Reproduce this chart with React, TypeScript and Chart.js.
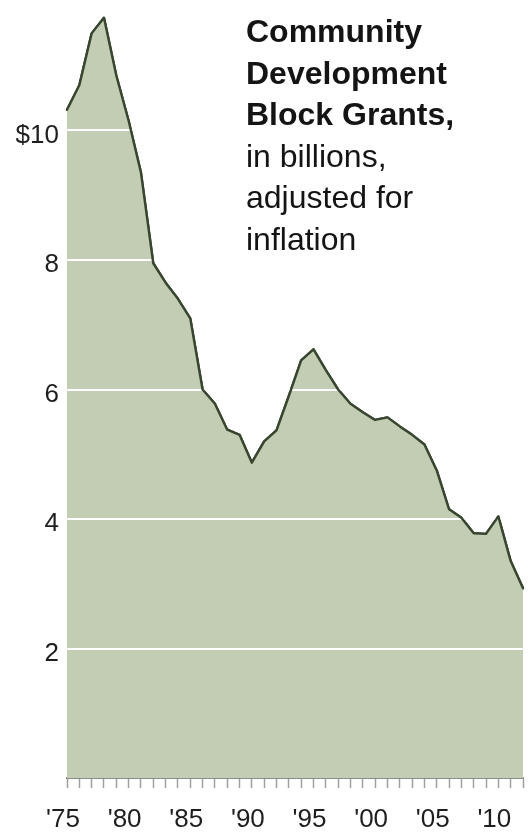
import React, { useEffect, useRef } from 'react';
import { Chart, registerables } from 'chart.js';

Chart.register(...registerables);

// Fiscal years on the horizontal axis
const years: number[] = [
  1975, 1976, 1977, 1978, 1979, 1980, 1981, 1982, 1983, 1984,
  1985, 1986, 1987, 1988, 1989, 1990, 1991, 1992, 1993, 1994,
  1995, 1996, 1997, 1998, 1999, 2000, 2001, 2002, 2003, 2004,
  2005, 2006, 2007, 2008, 2009, 2010, 2011, 2012,
];

// Grant funding, billions of inflation-adjusted dollars
const grants: number[] = [
  10.32, 10.7, 11.5, 11.74, 10.85, 10.15, 9.35, 7.95, 7.65, 7.4,
  7.1, 6.0, 5.78, 5.38, 5.3, 4.87, 5.2, 5.37, 5.9, 6.45,
  6.62, 6.3, 6.0, 5.78, 5.65, 5.53, 5.57, 5.43, 5.3, 5.15,
  4.75, 4.15, 4.02, 3.78, 3.77, 4.04, 3.35, 2.93,
];

// Labelled years on the x axis and labelled values on the y axis
const xLabelYears: number[] = [1975, 1980, 1985, 1990, 1995, 2000, 2005, 2010];
const yTickValues: number[] = [2, 4, 6, 8, 10];
const yTickLabels: string[] = ['2', '4', '6', '8', '$10'];

const titleBold: string[] = ['Community', 'Development', 'Block Grants,'];
const titleNote: string[] = ['in billions,', 'adjusted for', 'inflation'];

const FONT = '"Liberation Sans", Arial, Helvetica, sans-serif';

// Redraw the outline after the grid so the white rules sit under it
const lineOnTop = {
  id: 'lineOnTop',
  afterDraw(chart: any) {
    const meta = chart.getDatasetMeta(1);
    if (meta && meta.controller && !meta.hidden) meta.controller.draw();
  },
};

export default function App() {
  const canvasRef = useRef<HTMLCanvasElement | null>(null);

  useEffect(() => {
    const canvas = canvasRef.current;
    if (!canvas) return;
    const chart = new Chart(canvas, {
      type: 'line',
      data: {
        labels: years,
        datasets: [
          {
            data: grants,
            fill: 'origin',
            backgroundColor: 'rgb(195, 205, 179)',
            borderWidth: 0,
            pointRadius: 0,
            tension: 0,
          },
          {
            data: grants,
            fill: false,
            borderColor: '#38452f',
            borderWidth: 2.4,
            pointRadius: 0,
            tension: 0,
            borderJoinStyle: 'round',
            borderCapStyle: 'round',
          },
        ],
      },
      options: {
        responsive: false,
        animation: false,
        layout: { padding: { top: 1, right: 9, bottom: 0, left: 0 } },
        plugins: {
          legend: { display: false },
          tooltip: { enabled: false },
          title: { display: false },
        },
        scales: {
          x: {
            type: 'category',
            offset: false,
            grid: {
              display: true,
              drawOnChartArea: false,
              drawTicks: true,
              tickLength: 10,
              tickColor: '#a0a0a0',
              tickWidth: 1.5,
            },
            border: { display: true, color: '#8c8c8c', width: 2 },
            ticks: {
              autoSkip: false,
              maxRotation: 0,
              minRotation: 0,
              padding: 16,
              labelOffset: -4,
              color: '#1e1e1e',
              font: { family: FONT, size: 26 },
              callback: (_v: any, i: number) => {
                const y = years[i];
                return xLabelYears.includes(y) ? "'" + String(y).slice(2) : '';
              },
            },
            afterFit: (scale: any) => {
              scale.height = 54;
              scale.paddingLeft = 0;
              scale.paddingRight = 0;
            },
          },
          y: {
            min: 0,
            max: 12,
            grid: {
              z: 1,
              color: '#ffffff',
              lineWidth: 2,
              drawTicks: false,
            },
            border: { display: false },
            ticks: {
              stepSize: 2,
              padding: 8,
              labelOffset: 5,
              color: '#1e1e1e',
              font: { family: FONT, size: 26 },
              callback: (v: any) => {
                const idx = yTickValues.indexOf(Number(v));
                return idx >= 0 ? yTickLabels[idx] : null;
              },
            },
            afterFit: (scale: any) => {
              scale.width = 67;
              scale.paddingTop = 0;
              scale.paddingBottom = 0;
            },
          },
        },
      },
      plugins: [lineOnTop],
    });
    return () => chart.destroy();
  }, []);

  return (
    <div
      style={{
        position: 'absolute',
        left: 0,
        top: 0,
        width: 532,
        height: 832,
        background: '#ffffff',
        overflow: 'hidden',
      }}
    >
      <canvas
        ref={canvasRef}
        width={532}
        height={832}
        style={{ position: 'absolute', left: 0, top: 0 }}
      />
      <div
        style={{
          position: 'absolute',
          left: 246,
          top: 11,
          fontFamily: FONT,
          fontSize: 32,
          lineHeight: '41.6px',
          color: '#141414',
          whiteSpace: 'nowrap',
        }}
      >
        {titleBold.map((t) => (
          <div key={t} style={{ fontWeight: 700 }}>
            {t}
          </div>
        ))}
        {titleNote.map((t) => (
          <div key={t} style={{ fontWeight: 400 }}>
            {t}
          </div>
        ))}
      </div>
    </div>
  );
}
